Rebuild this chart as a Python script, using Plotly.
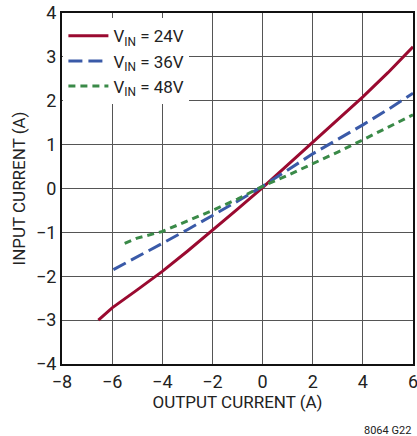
import plotly.graph_objects as go

# Input current vs output current for three input voltages
x_24 = [-6.55, -6.0, -5.0, -4.0, -3.0, -2.0, -1.0, 0.0, 1.0, 2.0, 3.0, 4.0, 5.0, 6.0]
y_24 = [-3.0, -2.72, -2.31, -1.89, -1.43, -0.96, -0.47, 0.02, 0.54, 1.05, 1.56, 2.09, 2.64, 3.23]

x_36 = [-5.95, -5.0, -4.0, -3.0, -2.0, -1.0, 0.0, 1.0, 2.0, 3.0, 4.0, 5.0, 6.0]
y_36 = [-1.85, -1.55, -1.25, -0.94, -0.62, -0.29, 0.05, 0.42, 0.79, 1.12, 1.45, 1.8, 2.17]

x_48 = [-5.5, -5.0, -4.0, -3.0, -2.0, -1.0, 0.0, 1.0, 2.0, 3.0, 4.0, 5.0, 6.0]
y_48 = [-1.25, -1.13, -0.98, -0.74, -0.5, -0.24, 0.05, 0.3, 0.56, 0.83, 1.11, 1.39, 1.68]

names = ["V<sub>IN</sub> = 24V", "V<sub>IN</sub> = 36V", "V<sub>IN</sub> = 48V"]

x_ticks = [-8, -6, -4, -2, 0, 2, 4, 6]
y_ticks = [-4, -3, -2, -1, 0, 1, 2, 3, 4]
x_labels = ["\u22128", "\u22126", "\u22124", "\u22122", "0", "2", "4", "6"]
y_labels = ["\u22124", "\u22123", "\u22122", "\u22121", "0", "1", "2", "3", "4"]

FONT = "Roboto, Liberation Sans, sans-serif"

fig = go.Figure()
fig.add_trace(go.Scatter(x=x_24, y=y_24, mode="lines", name=names[0],
                         line=dict(color="#9a0a30", width=3)))
fig.add_trace(go.Scatter(x=x_36, y=y_36, mode="lines", name=names[1],
                         line=dict(color="#3a5aa8", width=3, dash="14px,6px")))
fig.add_trace(go.Scatter(x=x_48, y=y_48, mode="lines", name=names[2],
                         line=dict(color="#3a8a48", width=3, dash="7px,5px")))

fig.update_layout(
    width=417, height=436,
    margin=dict(l=62, r=4, t=13, b=72),
    paper_bgcolor="white", plot_bgcolor="white",
    font=dict(family=FONT, size=17, color="#222"),
    showlegend=True,
    legend=dict(x=0.004, y=0.985, xanchor="left", yanchor="top",
                bgcolor="white", borderwidth=0,
                font=dict(family=FONT, size=17, color="#222"),
                itemwidth=40, tracegroupgap=0),
    xaxis=dict(range=[-8, 6], tickvals=x_ticks, ticktext=x_labels,
               automargin=False, ticklabeloverflow="allow",
               showgrid=True, gridcolor="#555", gridwidth=1,
               showline=True, linecolor="#111", linewidth=2, mirror=True,
               zeroline=False, ticks="", ticklen=0,
               title=dict(text="OUTPUT CURRENT (A)", font=dict(family=FONT, size=17),
                          standoff=6),
               tickfont=dict(family=FONT, size=18)),
    yaxis=dict(range=[-4, 4], tickvals=y_ticks, ticktext=y_labels,
               automargin=False, ticklabeloverflow="allow",
               showgrid=True, gridcolor="#555", gridwidth=1,
               showline=True, linecolor="#111", linewidth=2, mirror=True,
               zeroline=False, ticks="", ticklen=0,
               title=dict(text="INPUT CURRENT (A)", font=dict(family=FONT, size=17),
                          standoff=6),
               tickfont=dict(family=FONT, size=18)),
)

fig.add_annotation(text="8064 G22", xref="paper", yref="paper",
                   x=1.0, y=0, yshift=-66, xanchor="right", yanchor="middle",
                   showarrow=False, font=dict(family=FONT, size=11, color="#222"))

fig.write_html("out.html")
